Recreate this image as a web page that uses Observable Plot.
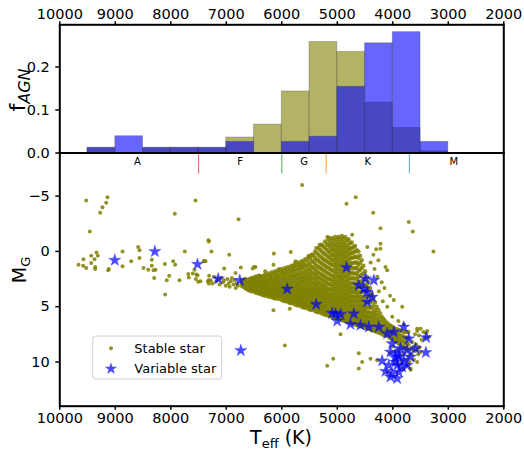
<!DOCTYPE html>
<html>
<head>
<meta charset="utf-8">
<script src="https://cdn.jsdelivr.net/npm/d3@7"></script>
<script src="https://cdn.jsdelivr.net/npm/@observablehq/plot@0.6"></script>
<style>
  html, body { margin: 0; padding: 0; background: white; }
  #chart { position: relative; width: 524px; height: 452px; font-family: "DejaVu Sans", sans-serif; }
  #chart svg { position: absolute; left: 0; }
</style>
</head>
<body>
<div id="chart"></div>
<script>
// ---------- data ----------
const xTicks = [10000, 9000, 8000, 7000, 6000, 5000, 4000, 3000, 2000];
const fTicks = [0, 0.1, 0.2];
const mTicks = [-5, 0, 5, 10];

// histogram bins (500 K wide, left edge = hotter end)
const binStart = [9500, 9000, 8500, 8000, 7500, 7000, 6500, 6000, 5500, 5000, 4500, 4000, 3500];
const fStable   = [0.012, 0.0, 0.012, 0.012, 0.012, 0.036, 0.066, 0.143, 0.258, 0.235, 0.117, 0.058, 0.004];
const fVariable = [0.012, 0.039, 0.012, 0.012, 0.012, 0.026, 0.0, 0.026, 0.038, 0.154, 0.255, 0.281, 0.026];

// spectral type boundaries and labels
const spectralBounds = [7500, 6000, 5200, 3700];
const spectralColors = ["#e8777a", "#6cbf6c", "#ffa95a", "#77aedb"];
const spectralTypes = ["A", "F", "G", "K", "M"];
const spectralLabelT = [8600, 6750, 5600, 4450, 2900];

// stable stars [Teff, M_G] — scattered points
const stableSparse = [
[9524,-4.6],[9141,-4.9],[9164,-4.4],[9231,-4.0],[9272,-3.5],[9459,-1.8],[7555,-4.6],[7928,-3.4],[7315,-0.9],[9339,0.1],
[9315,0.4],[9434,0.4],[9375,0.7],[9573,0.7],[9434,1.05],[9663,1.2],[9579,1.3],[9524,1.5],[9362,1.4],[9362,1.6],
[9117,1.6],[9128,1.7],[8870,0.0],[8870,1.35],[8714,0.9],[8588,-0.4],[8564,-0.1],[8564,0.6],[8492,1.5],[8407,1.65],
[8342,0.75],[8342,1.3],[8312,1.7],[8276,1.65],[8299,2.4],[8101,3.9],[8108,1.15],[8029,2.2],[8072,2.6],[7957,0.9],
[7921,1.2],[7843,2.6],[7748,0.0],[7686,2.05],[7675,2.35],[7604,2.0],[7573,1.65],[7537,2.1],[7519,2.15],[7549,2.5],
[7507,2.75],[7465,2.7],[7405,0.9],[7375,0.9],[7315,2.6],[7315,2.9],[5633,-6.0],[6780,-2.9],[7321,-1.0],[7267,0.0],
[6948,0.3],[7393,0.85],[7038,1.55],[6739,1.45],[6834,1.95],[6144,0.2],[5838,0.05],[6150,1.2],[5153,-1.25],[5285,-0.55],
[5514,0.4],[5663,1.35],[6474,1.4],[6523,1.55],[7333,2.7],[4667,-4.9],[4834,-4.3],[4354,-3.5],[3712,-2.65],[3640,-1.8],
[4222,-2.1],[4732,-1.5],[3267,0.0],[5946,8.5],[5182,10.35],[5074,9.7],[4613,9.2],[4613,10.6],[4553,10.0],[4942,7.5],
[4282,9.85],[4402,9.7],[4101,10.9],[3681,10.6],[3561,10.0],[3531,8.65],[3381,7.2],[3351,7.75],[3561,7.0],[4011,5.9],
[3831,5.0],[3982,4.4],[4101,1.7],[4222,-0.25],[4222,-0.7],[4132,1.4],[6150,5.33],[5856,5.18],
[7310,2.2],[7280,2.6],[7250,2.9],[7220,2.3],[7180,2.7],[7150,2.5],[7120,3.0],[7090,2.4],[7060,2.8],[7040,2.6],[7010,3.1],
[6980,2.5],[6960,2.9],[6940,3.2],[6920,2.7],[6900,2.4],[6870,3.0],[6850,2.6],[6830,3.3],[6810,2.9],[6790,3.1],
[6500,1.4],[6300,1.8],[6400,2.2],[6200,2.3],[6050,1.6],[5950,2.0],[6100,2.5],[5800,1.5],[5750,0.9],[5600,1.2],
[5450,0.3],[5380,-0.3],[5320,-0.6],[5180,-1.3],[4460,-0.4],[4350,0.3],[4300,-0.2],[4260,0.8],[4400,1.0],[4330,1.6],
[4280,2.3],[4200,2.8],[4150,3.3],[4250,3.6],[4180,4.5],[4100,5.0],[4050,4.0],[3900,6.3],[3800,6.6],
[3950,9.0],[3920,9.6],[3900,10.2],[3880,8.8],[3860,9.4],[3840,10.0],[3820,10.6],[3800,9.2],[3780,9.8],[3760,8.9],
[3740,10.3],[3720,9.5],[3700,10.0],[3680,10.7],[3660,9.3],[3640,8.9],[3620,9.8],[4000,8.6],[4050,9.2],[3980,9.9],
[3450,7.3],[3420,7.8],[3480,8.0],[3400,7.4],[3530,7.6],[3560,7.2],[3500,7.0],[3600,7.5],[3620,8.6],[3600,9.0],
[3580,8.4],[3560,8.9],[3540,9.3],[3520,8.7],[3500,9.1],[3670,8.8],[3650,8.2]
];

// stable stars in the dense cloud: [Teff, [M_G values at that Teff]]
const stableCloudA = [
[6720,[2.6,2.85,3.1]],
[6660,[2.5,2.8,3.05,3.3]],
[6600,[2.55,2.8,3.0,3.25,3.5]],
[6540,[2.4,2.7,2.95,3.2,3.45,3.6]],
[6480,[2.3,2.6,2.9,3.1,3.4,3.7]],
[6420,[2.2,2.55,2.8,3.05,3.3,3.55,3.8]],
[6360,[2.25,2.6,2.9,3.15,3.4,3.65,3.9]],
[6300,[2.1,2.5,2.8,3.05,3.3,3.55,3.8,4.0]],
[6240,[2.0,2.4,2.75,3.0,3.3,3.5,3.75,4.1]],
[6180,[1.9,2.35,2.7,3.1,3.35,3.6,3.85,4.15]],
[6120,[1.8,2.2,2.6,2.95,3.3,3.55,3.8,4.05,4.25]],
[6060,[1.7,2.15,2.5,2.9,3.2,3.5,3.75,4.0,4.3]],
[6000,[1.6,2.0,2.45,2.85,3.2,3.5,3.8,4.05,4.4]],
[5940,[1.5,1.95,2.4,2.8,3.15,3.45,3.7,3.95,4.2,4.5]],
[5880,[1.4,1.85,2.3,2.7,3.1,3.4,3.7,3.95,4.25,4.6]],
[5820,[1.3,1.8,2.25,2.65,3.0,3.35,3.65,3.95,4.2,4.45,4.7]],
[5760,[1.1,1.6,2.1,2.5,2.9,3.3,3.6,3.9,4.2,4.5,4.8]],
[5700,[1.0,1.5,2.0,2.45,2.85,3.2,3.55,3.85,4.15,4.4,4.65,4.9]],
[5640,[0.9,1.4,1.9,2.35,2.75,3.15,3.5,3.8,4.1,4.4,4.7,5.0]],
[5580,[0.7,1.25,1.75,2.2,2.6,3.0,3.4,3.75,4.05,4.35,4.6,4.85,5.1]],
[5520,[0.5,1.05,1.6,2.05,2.5,2.9,3.3,3.65,4.0,4.3,4.6,4.9,5.2]],
[5460,[0.3,0.85,1.4,1.9,2.35,2.8,3.2,3.55,3.9,4.2,4.5,4.8,5.05,5.3]],
[5400,[0.0,0.6,1.15,1.65,2.1,2.55,3.0,3.4,3.75,4.1,4.4,4.7,5.0,5.4]],
[5340,[-0.3,0.3,0.85,1.4,1.9,2.35,2.8,3.2,3.6,3.95,4.3,4.6,4.9,5.2,5.5]],
[5280,[-0.6,0.0,0.55,1.1,1.6,2.1,2.55,3.0,3.4,3.8,4.15,4.5,4.85,5.2,5.6]],
[5220,[-0.9,-0.3,0.25,0.8,1.3,1.8,2.3,2.75,3.2,3.6,4.0,4.35,4.7,5.0,5.35,5.7]],
[5160,[-1.1,-0.55,0.0,0.5,1.0,1.5,2.0,2.5,2.95,3.4,3.8,4.15,4.5,4.85,5.2,5.5,5.8]],
[5100,[-1.2,-0.7,-0.2,0.3,0.75,1.2,1.7,2.2,2.65,3.1,3.5,3.9,4.25,4.6,4.95,5.3,5.6,5.9]],
[5040,[-1.3,-0.8,-0.35,0.1,0.55,1.0,1.45,1.9,2.35,2.8,3.2,3.6,4.0,4.4,4.75,5.1,5.4,5.7,6.0]],
[4980,[-1.3,-0.85,-0.4,0.05,0.45,0.9,1.35,1.8,2.25,2.7,3.1,3.5,3.9,4.3,4.7,5.05,5.4,5.75,6.1]],
[4920,[-1.4,-0.9,-0.45,0.0,0.4,0.85,1.3,1.75,2.2,2.6,3.0,3.45,3.85,4.25,4.6,5.0,5.35,5.7,6.0,6.2]],
[4860,[-1.3,-0.8,-0.35,0.1,0.5,0.95,1.4,1.85,2.3,2.75,3.15,3.55,3.95,4.35,4.75,5.1,5.45,5.8,6.1,6.3]],
[4800,[-1.1,-0.6,-0.15,0.3,0.75,1.2,1.65,2.1,2.55,3.0,3.4,3.8,4.2,4.6,5.0,5.35,5.7,6.0,6.4]],
[4740,[-0.8,-0.3,0.15,0.6,1.05,1.5,1.95,2.4,2.85,3.25,3.65,4.05,4.45,4.85,5.2,5.55,5.9,6.2,6.5]],
[4680,[-0.5,0.0,0.5,1.0,1.5,2.0,2.45,2.9,3.3,3.7,4.1,4.5,4.9,5.25,5.6,5.95,6.3,6.6]],
[4620,[0.0,0.6,1.2,1.75,2.3,2.8,3.25,3.7,4.1,4.5,4.9,5.3,5.65,6.0,6.35,6.7]],
[4560,[0.8,1.5,2.1,2.7,3.2,3.7,4.15,4.55,4.95,5.35,5.7,6.05,6.4,6.8]],
[4500,[1.8,2.5,3.1,3.6,4.1,4.55,5.0,5.4,5.8,6.15,6.5,6.9]],
[4440,[2.8,3.5,4.1,4.6,5.05,5.5,5.9,6.3,6.65,7.0]],
[4380,[3.8,4.5,5.1,5.6,6.0,6.4,6.75,7.1]],
[4320,[4.6,5.3,5.8,6.25,6.6,6.9,7.2]],
[4260,[5.3,5.9,6.35,6.7,7.0,7.3]],
[4200,[5.9,6.4,6.8,7.1,7.4]],
[4140,[6.3,6.75,7.1,7.5]],
[4080,[6.6,7.0,7.35,7.7]],
[4020,[6.8,7.2,7.55,7.9]],
[3960,[7.0,7.4,7.75,8.1]],
[3900,[7.1,7.5,7.9,8.3]],
[3840,[7.2,7.65,8.05,8.5]],
[3780,[7.3,7.8,8.25,8.7]],
[3720,[7.3,7.85,8.4,8.9]]
];
const stableCloudB = [
[6690,[2.7,2.95,3.2]],
[6630,[2.65,2.9,3.15,3.4]],
[6570,[2.5,2.85,3.1,3.35,3.55]],
[6510,[2.45,2.75,3.0,3.25,3.55]],
[6450,[2.35,2.7,2.95,3.2,3.45,3.75]],
[6390,[2.4,2.7,3.0,3.25,3.5,3.8]],
[6330,[2.3,2.65,2.95,3.2,3.45,3.7,3.95]],
[6270,[2.2,2.6,2.9,3.15,3.4,3.65,3.95]],
[6210,[2.15,2.55,2.9,3.2,3.45,3.7,4.0]],
[6150,[2.0,2.45,2.8,3.15,3.45,3.7,3.95,4.2]],
[6090,[1.95,2.35,2.75,3.05,3.35,3.65,3.9,4.15]],
[6030,[1.8,2.25,2.65,3.0,3.35,3.65,3.9,4.2]],
[5970,[1.75,2.2,2.6,3.0,3.3,3.6,3.85,4.1,4.45]],
[5910,[1.65,2.1,2.5,2.9,3.25,3.55,3.85,4.1,4.4]],
[5850,[1.55,2.05,2.45,2.85,3.2,3.5,3.8,4.1,4.35,4.65]],
[5790,[1.35,1.85,2.3,2.7,3.1,3.45,3.75,4.05,4.35,4.6]],
[5730,[1.25,1.75,2.2,2.65,3.05,3.4,3.7,4.0,4.3,4.55,4.85]],
[5670,[1.15,1.65,2.15,2.55,2.95,3.35,3.65,3.95,4.25,4.55,4.8]],
[5610,[1.0,1.5,2.0,2.45,2.8,3.2,3.55,3.9,4.2,4.5,4.75,5.05]],
[5550,[0.8,1.35,1.85,2.3,2.7,3.1,3.5,3.85,4.15,4.45,4.75,5.0]],
[5490,[0.6,1.2,1.7,2.15,2.6,3.0,3.4,3.75,4.05,4.35,4.65,4.95,5.25]],
[5430,[0.4,0.95,1.5,2.0,2.45,2.9,3.3,3.65,4.0,4.3,4.6,4.9,5.2]],
[5370,[0.15,0.75,1.3,1.8,2.25,2.7,3.1,3.5,3.85,4.2,4.5,4.8,5.1,5.45]],
[5310,[-0.15,0.45,1.0,1.5,2.0,2.45,2.9,3.3,3.7,4.05,4.4,4.7,5.05,5.4]],
[5250,[-0.45,0.15,0.7,1.2,1.7,2.2,2.65,3.1,3.5,3.9,4.25,4.6,4.95,5.3,5.65]],
[5190,[-0.7,-0.15,0.4,0.9,1.4,1.9,2.4,2.85,3.3,3.7,4.05,4.4,4.75,5.1,5.45,5.75]],
[5130,[-0.9,-0.4,0.1,0.6,1.1,1.6,2.1,2.55,3.0,3.45,3.85,4.2,4.55,4.9,5.25,5.55,5.85]],
[5070,[-1.05,-0.55,-0.1,0.35,0.8,1.25,1.75,2.2,2.6,3.0,3.4,3.8,4.2,4.55,4.9,5.25,5.55,5.95]],
[5010,[-1.1,-0.6,-0.15,0.3,0.7,1.15,1.6,2.05,2.5,2.9,3.3,3.7,4.1,4.5,4.9,5.25,5.6,5.9]],
[4950,[-1.15,-0.65,-0.2,0.25,0.65,1.1,1.55,2.0,2.4,2.85,3.25,3.65,4.05,4.45,4.85,5.2,5.55,5.85,6.15]],
[4890,[-1.15,-0.65,-0.2,0.3,0.7,1.15,1.6,2.05,2.5,2.9,3.3,3.75,4.15,4.55,4.9,5.3,5.6,5.95,6.25]],
[4830,[-1.0,-0.45,0.0,0.45,0.9,1.35,1.8,2.25,2.7,3.1,3.5,3.9,4.3,4.7,5.1,5.45,5.8,6.15,6.35]],
[4770,[-0.75,-0.25,0.2,0.65,1.1,1.55,2.0,2.45,2.9,3.3,3.7,4.1,4.5,4.9,5.3,5.65,6.0,6.3]],
[4710,[-0.4,0.1,0.55,1.05,1.55,2.0,2.45,2.9,3.3,3.7,4.1,4.5,4.9,5.3,5.65,6.0,6.3,6.55]],
[4650,[-0.1,0.45,1.0,1.5,2.0,2.5,2.95,3.4,3.8,4.2,4.6,5.0,5.35,5.7,6.05,6.4,6.65]],
[4590,[0.4,1.05,1.65,2.2,2.75,3.2,3.65,4.05,4.45,4.85,5.2,5.55,5.9,6.25,6.6]],
[4530,[1.3,2.0,2.6,3.15,3.65,4.1,4.5,4.9,5.3,5.65,6.0,6.35,6.7]],
[4470,[2.3,3.0,3.6,4.1,4.6,5.05,5.45,5.85,6.2,6.55,6.9]],
[4410,[3.3,4.0,4.6,5.1,5.55,5.95,6.35,6.7,7.05]],
[4350,[4.2,4.9,5.45,5.9,6.3,6.65,7.0,7.15]],
[4290,[5.0,5.6,6.1,6.5,6.8,7.1,7.3]],
[4230,[5.6,6.15,6.6,6.95,7.25,7.4]],
[4170,[6.1,6.6,7.0,7.3,7.55]],
[4110,[6.45,6.9,7.25,7.6]],
[4050,[6.7,7.1,7.45,7.8]],
[3990,[6.9,7.3,7.65,8.0]],
[3930,[7.05,7.45,7.85,8.2]],
[3870,[7.15,7.6,8.0,8.4]],
[3810,[7.25,7.7,8.15,8.6]],
[3750,[7.3,7.8,8.3,8.8]]
];

// variable stars [Teff, M_G]
const variableStars = [
[9009,0.8],[8288,0.0],[7519,1.17],[7146,2.47],[6757,2.62],[5903,3.4],[5380,4.79],[4834,1.45],[6739,8.97],
[4492,2.47],[4342,2.6],[4613,3.07],[4522,3.37],[4462,3.68],[4372,4.13],[4462,4.55],
[5092,5.6],[5032,5.63],[4942,5.7],[4702,5.63],[5002,6.3],[4762,6.6],[4582,6.68],[4432,6.84],[4252,6.84],
[4102,7.44],[3982,7.29],[3802,6.84],[3712,7.89],[3399,7.78],[3405,9.15],[3591,8.79],
[4012,8.34],[3862,8.79],[3742,8.94],[3922,9.24],[4042,9.1],[4192,9.9],[4072,10.3],[3952,10.0],[3802,9.85],
[3682,9.55],[4132,10.85],[4012,11.05],[3892,10.9],[3922,11.5],[3832,10.45],[3742,10.3],[4042,11.35],[3960,9.6],
[3880,9.5],[3920,10.3]
];

// ---------- layout ----------
const W = 524, H = 452;
const mL = 59.3, mR = 20.7;
const font = "DejaVu Sans";
const tickFont = "14.5px";
const starR = 3.9;
const dotR = 2.0;
const cloudR = 2.25;

const histRows = binStart.map((b, i) => ({x1: b, x2: b - 500, stable: fStable[i], variable: fVariable[i]}));
const expand = cols => cols.flatMap(([t, ms]) => ms.map(m => [t, m]));
const cloudPoints = [...expand(stableCloudA), ...expand(stableCloudB)];

// bottom (HR diagram) panel
const hrPlot = Plot.plot({
  width: W, height: H,
  marginLeft: mL, marginRight: mR, marginTop: 152.5, marginBottom: 46.3,
  style: {fontFamily: font, fontSize: tickFont, background: "white", color: "black"},
  x: {domain: [10000, 2000]},
  y: {domain: [14, -8.9]},
  color: {type: "identity"},
  marks: [
    Plot.dot(stableSparse, {x: d => d[0], y: d => d[1], r: dotR, fill: "olive", fillOpacity: 0.85}),
    Plot.dot(cloudPoints, {x: d => d[0], y: d => d[1], r: cloudR, fill: "olive", fillOpacity: 0.85}),
    Plot.dot(variableStars, {x: d => d[0], y: d => d[1], symbol: "star", r: starR, fill: "blue", fillOpacity: 0.7, stroke: "blue", strokeOpacity: 0.25, strokeWidth: 0.8}),
    Plot.ruleX(spectralBounds, {x: d => d, y1: -8.9, y2: -7.0, stroke: (d, i) => spectralColors[i], strokeWidth: 1.2}),
    Plot.text(spectralTypes, {x: (d, i) => spectralLabelT[i], y: -8.1, text: d => d, fontSize: 10, fill: "black"}),
    Plot.axisX({ticks: xTicks, tickFormat: d => String(d), tickSize: 4, tickPadding: 3, strokeWidth: 1.5, label: null}),
    Plot.axisY({ticks: mTicks, tickSize: 4, tickPadding: 6, strokeWidth: 1.5, label: null}),
    Plot.frame({stroke: "black", strokeWidth: 2})
  ]
});

// top (histogram) panel
const histPlot = Plot.plot({
  width: W, height: 153,
  marginLeft: mL, marginRight: mR, marginTop: 24.3, marginBottom: 0.5,
  style: {fontFamily: font, fontSize: tickFont, background: "transparent", color: "black", overflow: "visible"},
  x: {domain: [10000, 2000]},
  y: {domain: [0, 0.298]},
  marks: [
    Plot.rectY(histRows, {x1: "x1", x2: "x2", y: "stable", fill: "olive", fillOpacity: 0.6, stroke: "#444", strokeOpacity: 0.3, strokeWidth: 1, inset: 0}),
    Plot.rectY(histRows, {x1: "x1", x2: "x2", y: "variable", fill: "blue", fillOpacity: 0.6, stroke: "#444", strokeOpacity: 0.3, strokeWidth: 1, inset: 0}),
    Plot.axisX({anchor: "top", ticks: xTicks, tickFormat: d => String(d), tickSize: 4, tickPadding: 2, strokeWidth: 1.5, label: null}),
    Plot.axisY({ticks: fTicks, tickFormat: d => d.toFixed(1), tickSize: 4, tickPadding: 6, strokeWidth: 1.5, label: null}),
    Plot.frame({stroke: "black", strokeWidth: 2})
  ]
});

const chart = document.getElementById("chart");
hrPlot.style.top = "0px";
histPlot.style.top = "0px";
chart.appendChild(hrPlot);
chart.appendChild(histPlot);

// ---------- axis titles & legend ----------
const svg = d3.select(hrPlot);

// f_AGN
const fLab = svg.append("text")
  .attr("transform", "translate(25,90) rotate(-90)")
  .attr("text-anchor", "middle")
  .attr("font-family", font).attr("font-size", 22).attr("fill", "black");
fLab.append("tspan").text("f");
fLab.append("tspan").attr("font-size", 16).attr("font-style", "italic").attr("dy", 5).text("AGN");

// M_G
const mLab = svg.append("text")
  .attr("transform", "translate(26,270) rotate(-90)")
  .attr("text-anchor", "middle")
  .attr("font-family", font).attr("font-size", 19).attr("fill", "black");
mLab.append("tspan").text("M");
mLab.append("tspan").attr("font-size", 13).attr("dy", 4).text("G");

// T_eff (K)
const tLab = svg.append("text")
  .attr("x", 281).attr("y", 444)
  .attr("text-anchor", "middle")
  .attr("font-family", font).attr("font-size", 19).attr("fill", "black");
tLab.append("tspan").text("T");
tLab.append("tspan").attr("font-size", 13).attr("dy", 4).text("eff");
tLab.append("tspan").attr("dy", -4).text(" (K)");

// legend
const lg = svg.append("g").attr("text-anchor", "start");
lg.append("rect").attr("x", 92.7).attr("y", 336).attr("width", 129).attr("height", 43).attr("rx", 3)
  .attr("fill", "white").attr("fill-opacity", 0.8).attr("stroke", "#d0d0d0").attr("stroke-width", 1);
lg.append("circle").attr("cx", 111).attr("cy", 348.3).attr("r", dotR).attr("fill", "olive").attr("fill-opacity", 0.85);
lg.append("path").attr("d", d3.symbol(d3.symbolStar, Math.PI * starR * starR)()).attr("transform", "translate(111,368.7)")
  .attr("fill", "blue").attr("fill-opacity", 0.7);
lg.append("text").attr("x", 134.3).attr("y", 348.3).attr("dy", "0.35em").attr("text-anchor", "start").attr("font-family", font).attr("font-size", 13).attr("fill", "black").text("Stable star");
lg.append("text").attr("x", 134.3).attr("y", 368.7).attr("dy", "0.35em").attr("text-anchor", "start").attr("font-family", font).attr("font-size", 13).attr("fill", "black").text("Variable star");
</script>
</body>
</html>
